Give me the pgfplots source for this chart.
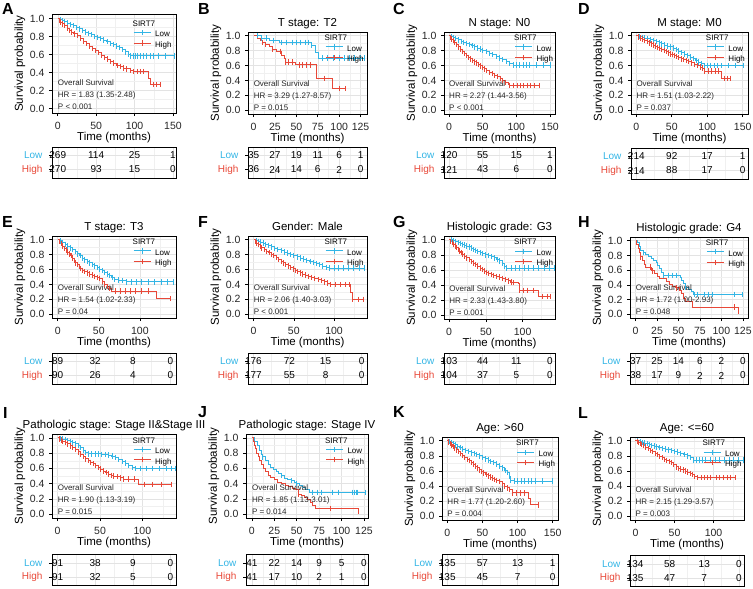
\documentclass[border=0pt]{standalone}
\usepackage{fontspec}
\setmainfont{Liberation Sans}
\usepackage{pgfplots}
\usepackage{pgfplotstable}
\pgfplotsset{compat=1.18}
\definecolor{lowc}{HTML}{33B5E5}
\definecolor{highc}{HTML}{E84838}
\newcommand\tickf{\fontsize{10.5}{12}\selectfont}
\newcommand\labf{\fontsize{11.5}{13}\selectfont}
\newcommand\annf{\fontsize{8}{9.5}\selectfont}
\newcommand\tabf{\fontsize{10}{12}\selectfont}
\newcommand\letf{\fontsize{16}{18}\selectfont\bfseries}

% ---------------- data (t = months, S = survival, c = censor mark) ----------------
\pgfplotstableread[row sep=\\]{t S c\\0 1 0\\3 0.99 1\\6 0.975 1\\9 0.965 1\\12 0.95 1\\16 0.935 1\\20 0.92 1\\24 0.90 1\\28 0.885 1\\32 0.87 1\\36 0.85 1\\40 0.835 1\\44 0.82 1\\48 0.80 1\\52 0.79 1\\56 0.775 1\\60 0.76 1\\64 0.745 1\\68 0.725 1\\72 0.71 1\\76 0.695 1\\80 0.675 1\\84 0.655 1\\88 0.63 1\\92 0.60 1\\95 0.585 1\\98 0.585 1\\101 0.585 1\\104 0.585 1\\108 0.585 1\\112 0.585 1\\116 0.585 1\\120 0.585 1\\125 0.585 1\\131 0.585 1\\140 0.585 1\\152 0.585 1\\}\Alow
\pgfplotstableread[row sep=\\]{t S c\\0 1 0\\2 0.98 1\\4 0.96 1\\6 0.94 1\\9 0.92 1\\12 0.895 1\\15 0.87 1\\18 0.85 1\\21 0.83 1\\25 0.81 1\\29 0.78 1\\33 0.75 1\\37 0.72 1\\41 0.695 1\\45 0.67 1\\49 0.645 1\\53 0.62 1\\57 0.595 1\\61 0.57 1\\65 0.55 1\\69 0.525 1\\73 0.505 1\\77 0.48 1\\81 0.465 1\\85 0.45 1\\90 0.44 1\\95 0.425 1\\99 0.41 1\\104 0.41 1\\108 0.41 1\\112 0.41 1\\118 0.33 0\\121 0.265 0\\124 0.265 1\\129 0.265 1\\134 0.265 1\\}\Ahigh
\pgfplotstableread[row sep=\\]{t S c\\0 1 0\\5 1 1\\9 0.97 1\\15 0.97 1\\19 0.94 0\\23 0.94 1\\30 0.91 0\\33 0.91 1\\38 0.91 1\\45 0.91 1\\50 0.91 1\\55 0.91 1\\60 0.91 1\\64 0.91 1\\68 0.87 1\\72 0.78 0\\76 0.70 0\\80 0.70 1\\86 0.70 1\\93 0.70 1\\100 0.70 1\\106 0.70 1\\112 0.70 1\\118 0.70 1\\125 0.70 1\\130 0.70 1\\}\Blow
\pgfplotstableread[row sep=\\]{t S c\\0 1 0\\5 0.97 0\\8 0.94 0\\10 0.91 1\\14 0.88 1\\18 0.85 0\\22 0.82 1\\27 0.79 0\\31 0.79 1\\33 0.74 0\\36 0.69 0\\37 0.645 1\\41 0.645 1\\45 0.645 1\\49 0.61 0\\53 0.61 1\\57 0.61 1\\62 0.61 1\\66 0.61 1\\74 0.43 0\\83 0.43 1\\92 0.29 0\\100 0.29 1\\107 0.29 1\\}\Bhigh
\pgfplotstableread[row sep=\\]{t S c\\0 1 0\\3 0.99 1\\6 0.975 1\\10 0.96 1\\14 0.945 1\\18 0.925 1\\22 0.91 1\\26 0.895 1\\30 0.88 1\\34 0.865 1\\38 0.85 1\\42 0.835 1\\46 0.82 1\\50 0.805 1\\55 0.785 1\\60 0.765 1\\65 0.745 1\\70 0.72 1\\75 0.70 1\\80 0.68 1\\85 0.655 1\\90 0.63 1\\95 0.605 1\\100 0.605 1\\105 0.605 1\\110 0.605 1\\115 0.605 1\\120 0.605 1\\130 0.605 1\\140 0.605 1\\151 0.605 1\\}\Clow
\pgfplotstableread[row sep=\\]{t S c\\0 1 0\\2 0.98 1\\4 0.955 1\\6 0.935 1\\8 0.91 1\\11 0.88 1\\14 0.85 1\\17 0.82 1\\20 0.79 1\\23 0.76 1\\26 0.735 1\\29 0.71 1\\32 0.69 1\\35 0.67 1\\38 0.65 1\\41 0.635 1\\44 0.615 1\\47 0.595 1\\50 0.575 1\\53 0.555 1\\56 0.53 1\\60 0.51 1\\64 0.49 1\\68 0.47 1\\72 0.45 1\\76 0.425 1\\80 0.40 1\\84 0.375 1\\88 0.35 0\\90 0.33 1\\96 0.33 1\\101 0.33 1\\106 0.33 1\\111 0.33 1\\116 0.33 1\\121 0.33 1\\127 0.33 1\\134 0.33 1\\}\Chigh
\pgfplotstableread[row sep=\\]{t S c\\0 1 0\\4 0.99 1\\8 0.98 1\\12 0.97 1\\16 0.96 1\\20 0.95 1\\24 0.935 1\\28 0.92 1\\32 0.905 1\\36 0.89 1\\40 0.875 1\\44 0.86 1\\48 0.85 1\\52 0.835 1\\56 0.815 1\\60 0.795 1\\64 0.775 1\\68 0.755 1\\72 0.735 1\\76 0.715 1\\80 0.695 1\\84 0.67 1\\88 0.645 1\\92 0.625 1\\96 0.60 1\\100 0.60 1\\105 0.60 1\\110 0.60 1\\115 0.60 1\\120 0.60 1\\130 0.60 1\\140 0.60 1\\151 0.60 1\\}\Dlow
\pgfplotstableread[row sep=\\]{t S c\\0 1 0\\3 0.985 1\\6 0.97 1\\9 0.955 1\\12 0.94 1\\15 0.92 1\\18 0.905 1\\21 0.89 1\\24 0.875 1\\27 0.86 1\\30 0.845 1\\33 0.83 1\\36 0.815 1\\39 0.80 1\\42 0.785 1\\45 0.77 1\\48 0.755 1\\51 0.745 1\\54 0.735 1\\57 0.72 1\\60 0.705 1\\63 0.69 1\\66 0.68 1\\70 0.67 1\\74 0.655 1\\78 0.635 1\\82 0.615 1\\86 0.60 1\\90 0.58 1\\93 0.565 1\\96 0.525 1\\101 0.525 1\\106 0.525 1\\111 0.525 1\\116 0.525 1\\120 0.43 0\\124 0.43 1\\128 0.43 1\\133 0.43 1\\}\Dhigh
\pgfplotstableread[row sep=\\]{t S c\\0 1 0\\3 0.985 1\\6 0.965 1\\9 0.94 1\\12 0.915 1\\15 0.89 1\\18 0.865 1\\21 0.84 1\\24 0.81 1\\27 0.785 1\\30 0.755 1\\33 0.73 1\\36 0.71 1\\39 0.69 1\\42 0.67 1\\45 0.65 1\\48 0.625 1\\51 0.605 1\\54 0.585 1\\57 0.56 1\\60 0.54 1\\63 0.52 1\\66 0.495 1\\69 0.47 1\\74 0.46 1\\79 0.45 1\\84 0.435 1\\90 0.435 1\\96 0.435 1\\102 0.435 1\\110 0.435 1\\118 0.435 1\\126 0.435 1\\134 0.435 1\\141 0.435 1\\}\Elow
\pgfplotstableread[row sep=\\]{t S c\\0 1 0\\2 0.98 1\\4 0.95 1\\6 0.915 1\\8 0.885 1\\10 0.86 1\\12 0.835 1\\14 0.81 1\\16 0.785 1\\18 0.755 1\\20 0.725 1\\22 0.69 1\\24 0.665 1\\26 0.64 1\\28 0.615 1\\30 0.59 1\\33 0.57 1\\36 0.555 1\\39 0.54 1\\42 0.525 1\\45 0.51 1\\48 0.495 1\\51 0.48 1\\54 0.44 1\\57 0.40 1\\60 0.37 1\\63 0.345 1\\66 0.31 0\\70 0.31 1\\76 0.31 1\\82 0.31 1\\88 0.31 1\\95 0.31 1\\102 0.31 1\\110 0.31 1\\120 0.21 0\\130 0.21 0\\137 0.21 1\\}\Ehigh
\pgfplotstableread[row sep=\\]{t S c\\0 1 0\\3 0.99 1\\6 0.98 1\\9 0.97 1\\12 0.955 1\\15 0.94 1\\18 0.925 1\\22 0.905 1\\26 0.885 1\\30 0.87 1\\34 0.855 1\\38 0.835 1\\42 0.82 1\\46 0.80 1\\50 0.785 1\\54 0.77 1\\58 0.755 1\\62 0.74 1\\66 0.725 1\\70 0.71 1\\74 0.695 1\\78 0.68 1\\82 0.665 1\\86 0.645 1\\90 0.63 1\\94 0.62 1\\100 0.62 1\\106 0.62 1\\112 0.62 1\\118 0.62 1\\124 0.62 1\\131 0.62 1\\138 0.62 1\\}\Flow
\pgfplotstableread[row sep=\\]{t S c\\0 1 0\\2 0.98 1\\4 0.955 1\\6 0.935 1\\8 0.91 1\\10 0.89 1\\13 0.865 1\\16 0.845 1\\19 0.825 1\\22 0.805 1\\25 0.785 1\\28 0.76 1\\31 0.735 1\\34 0.71 1\\37 0.69 1\\40 0.67 1\\43 0.65 1\\46 0.63 1\\49 0.61 1\\52 0.59 1\\55 0.575 1\\58 0.555 1\\61 0.54 1\\64 0.525 1\\68 0.51 1\\72 0.495 1\\76 0.48 1\\80 0.465 1\\84 0.45 1\\88 0.435 1\\92 0.42 1\\96 0.40 1\\102 0.40 1\\108 0.40 1\\114 0.40 1\\119 0.40 1\\121 0.29 0\\123 0.20 1\\130 0.20 1\\136 0.20 1\\}\Fhigh
\pgfplotstableread[row sep=\\]{t S c\\0 1 0\\3 1 1\\6 0.99 1\\9 0.975 1\\12 0.96 1\\15 0.95 1\\18 0.94 1\\21 0.93 1\\24 0.915 1\\27 0.905 1\\30 0.89 1\\33 0.875 1\\36 0.86 1\\39 0.845 1\\42 0.83 1\\45 0.815 1\\49 0.80 1\\53 0.79 1\\57 0.775 1\\61 0.76 1\\65 0.74 1\\69 0.72 1\\72 0.69 1\\75 0.65 1\\78 0.625 1\\84 0.625 1\\90 0.625 1\\96 0.625 1\\102 0.625 1\\108 0.625 1\\115 0.625 1\\122 0.625 1\\130 0.625 1\\137 0.625 1\\143 0.625 1\\}\Glow
\pgfplotstableread[row sep=\\]{t S c\\0 1 0\\2 0.98 1\\4 0.96 1\\6 0.94 1\\8 0.92 1\\10 0.90 1\\12 0.875 1\\14 0.85 1\\16 0.83 1\\18 0.81 1\\21 0.785 1\\24 0.76 1\\27 0.735 1\\30 0.71 1\\33 0.69 1\\36 0.67 1\\39 0.65 1\\42 0.625 1\\45 0.605 1\\48 0.585 1\\51 0.57 1\\54 0.555 1\\57 0.54 1\\60 0.53 1\\64 0.515 1\\68 0.505 1\\72 0.49 1\\76 0.475 1\\80 0.455 1\\84 0.44 1\\88 0.43 1\\94 0.425 0\\95 0.33 1\\101 0.33 1\\107 0.33 1\\115 0.33 1\\122 0.25 0\\127 0.25 1\\133 0.25 1\\138 0.25 1\\}\Ghigh
\pgfplotstableread[row sep=\\]{t S c\\0 1 0\\2 0.97 0\\4 0.92 0\\6 0.865 0\\9 0.84 1\\12 0.81 0\\15 0.78 0\\18 0.755 0\\21 0.73 0\\24 0.70 0\\26 0.67 0\\28 0.62 0\\30 0.57 0\\32 0.53 1\\38 0.53 1\\43 0.53 1\\48 0.53 1\\52 0.50 0\\54 0.46 0\\56 0.42 0\\58 0.37 1\\62 0.34 0\\65 0.31 0\\68 0.27 1\\72 0.27 1\\80 0.27 1\\85 0.27 1\\90 0.27 1\\115 0.27 1\\124 0.27 1\\}\Hlow
\pgfplotstableread[row sep=\\]{t S c\\0 1 0\\1 0.95 0\\3 0.89 0\\5 0.84 0\\6 0.78 1\\8 0.73 0\\10 0.68 0\\12 0.64 0\\17 0.64 1\\19 0.59 1\\22 0.55 0\\25 0.51 0\\28 0.49 0\\33 0.49 0\\36 0.44 0\\39 0.41 0\\43 0.38 0\\47 0.36 1\\51 0.32 0\\54 0.28 0\\56 0.22 0\\58 0.17 0\\66 0.10 0\\115 0.10 1\\120 0 0\\}\Hhigh
\pgfplotstableread[row sep=\\]{t S c\\0 1 0\\3 0.99 1\\6 0.985 1\\9 0.975 1\\12 0.965 1\\15 0.95 1\\18 0.935 1\\21 0.92 1\\24 0.90 1\\27 0.87 1\\30 0.84 1\\33 0.81 1\\36 0.79 1\\40 0.79 1\\44 0.79 1\\48 0.79 1\\52 0.785 1\\56 0.78 1\\60 0.775 1\\64 0.76 1\\68 0.745 1\\72 0.72 1\\76 0.69 1\\80 0.67 1\\84 0.64 1\\88 0.61 1\\92 0.60 1\\98 0.60 1\\105 0.60 1\\112 0.60 1\\120 0.60 1\\128 0.60 1\\134 0.60 1\\139 0.60 1\\}\Ilow
\pgfplotstableread[row sep=\\]{t S c\\0 1 0\\2 0.985 1\\4 0.97 1\\6 0.955 1\\9 0.94 1\\12 0.92 1\\15 0.895 1\\18 0.87 1\\21 0.845 1\\24 0.815 1\\27 0.785 1\\30 0.755 1\\33 0.725 1\\36 0.70 1\\39 0.68 1\\42 0.66 1\\45 0.64 1\\48 0.615 1\\51 0.59 1\\54 0.565 1\\57 0.545 1\\60 0.525 1\\63 0.51 1\\66 0.50 1\\70 0.49 1\\74 0.475 1\\78 0.46 1\\84 0.46 1\\90 0.46 1\\95 0.39 0\\102 0.39 1\\112 0.39 1\\122 0.39 1\\134 0.39 1\\}\Ihigh
\pgfplotstableread[row sep=\\]{t S c\\0 1 0\\3 0.95 0\\6 0.90 0\\9 0.84 0\\11 0.78 0\\12 0.75 1\\15 0.71 0\\18 0.65 0\\21 0.615 0\\24 0.58 0\\27 0.555 0\\30 0.53 0\\33 0.505 1\\36 0.47 0\\40 0.455 0\\44 0.44 1\\47 0.42 0\\50 0.40 1\\53 0.38 0\\56 0.355 0\\60 0.33 0\\64 0.285 0\\68 0.285 1\\73 0.285 1\\77 0.285 1\\90 0.285 1\\96 0.285 1\\112 0.285 1\\114 0.285 1\\116 0.285 1\\118 0.285 1\\127 0.285 1\\}\Jlow
\pgfplotstableread[row sep=\\]{t S c\\0 1 0\\2 0.95 0\\3 0.90 0\\4 0.86 0\\5 0.80 0\\7 0.75 0\\9 0.70 0\\11 0.65 0\\13 0.60 0\\15 0.56 0\\18 0.51 0\\21 0.475 0\\25 0.45 0\\29 0.42 0\\33 0.40 0\\37 0.375 0\\41 0.36 0\\45 0.34 0\\49 0.32 0\\52 0.26 1\\55 0.245 0\\59 0.22 0\\62 0.19 0\\65 0.15 0\\68 0.12 0\\71 0.075 0\\88 0.075 1\\119 0 0\\}\Jhigh
\pgfplotstableread[row sep=\\]{t S c\\0 1 0\\3 0.99 1\\6 0.975 1\\9 0.96 1\\12 0.945 1\\15 0.925 1\\18 0.91 1\\22 0.89 1\\26 0.87 1\\30 0.855 1\\34 0.84 1\\38 0.83 1\\42 0.815 1\\46 0.80 1\\50 0.78 1\\54 0.76 1\\58 0.745 1\\62 0.725 1\\66 0.71 1\\70 0.69 1\\74 0.665 1\\78 0.64 1\\82 0.61 1\\85 0.58 1\\88 0.53 1\\90 0.47 1\\95 0.465 1\\100 0.465 1\\105 0.465 1\\110 0.465 1\\115 0.465 1\\120 0.465 1\\125 0.465 1\\135 0.465 1\\150 0.465 1\\}\Klow
\pgfplotstableread[row sep=\\]{t S c\\0 1 0\\2 0.985 1\\4 0.965 1\\6 0.945 1\\8 0.925 1\\10 0.905 1\\13 0.88 1\\16 0.855 1\\19 0.83 1\\22 0.805 1\\25 0.78 1\\28 0.755 1\\31 0.735 1\\34 0.71 1\\37 0.69 1\\40 0.665 1\\43 0.64 1\\46 0.615 1\\49 0.595 1\\52 0.575 1\\55 0.555 1\\58 0.535 1\\61 0.52 1\\64 0.505 1\\67 0.49 1\\70 0.475 1\\74 0.46 1\\78 0.43 1\\81 0.40 1\\85 0.375 1\\89 0.355 1\\93 0.31 1\\98 0.31 1\\104 0.31 1\\110 0.31 1\\115 0.24 0\\118 0.15 0\\124 0.15 0\\130 0.15 1\\}\Khigh
\pgfplotstableread[row sep=\\]{t S c\\0 1 0\\3 1 1\\6 0.99 1\\9 0.98 1\\12 0.97 1\\15 0.96 1\\18 0.95 1\\21 0.94 1\\24 0.93 1\\27 0.92 1\\30 0.91 1\\34 0.90 1\\38 0.89 1\\42 0.88 1\\46 0.87 1\\50 0.86 1\\54 0.85 1\\58 0.835 1\\62 0.82 1\\66 0.80 1\\70 0.78 1\\74 0.745 1\\78 0.745 1\\82 0.745 1\\86 0.745 1\\90 0.745 1\\96 0.745 1\\102 0.745 1\\108 0.745 1\\114 0.745 1\\120 0.745 1\\126 0.745 1\\132 0.745 1\\138 0.745 1\\}\Llow
\pgfplotstableread[row sep=\\]{t S c\\0 1 0\\2 0.99 1\\4 0.975 1\\6 0.96 1\\8 0.95 1\\10 0.935 1\\13 0.915 1\\16 0.895 1\\19 0.875 1\\22 0.855 1\\25 0.835 1\\28 0.815 1\\31 0.795 1\\34 0.775 1\\37 0.755 1\\40 0.74 1\\43 0.725 1\\46 0.71 1\\49 0.685 1\\52 0.655 1\\55 0.635 1\\58 0.625 1\\61 0.615 1\\64 0.60 1\\67 0.585 1\\70 0.57 1\\73 0.55 1\\76 0.53 1\\79 0.51 1\\84 0.51 1\\88 0.51 1\\92 0.51 1\\96 0.51 1\\104 0.51 1\\108 0.51 1\\112 0.51 1\\118 0.51 1\\122 0.51 1\\128 0.51 1\\}\Lhigh

% ---------------- styles ----------------
\pgfplotsset{
  base/.style={scale only axis, anchor=north west,
    axis line style={line width=0.8pt, black},
    tick align=outside, major tick length=3pt, minor tick length=0pt,
    tick style={black, line width=0.6pt},
    xtick pos=bottom, ytick pos=left,
    grid=both,
    major grid style={line width=0.5pt, draw=black!11},
    minor grid style={line width=0.3pt, draw=black!6},
    /pgf/number format/assume math mode=true,
    ticklabel style={font=\tickf, text=black!85},
    xticklabel style={yshift=-2.5pt},
    yticklabel style={xshift=-1pt}},
  km/.style={base, ymin=-0.05, ymax=1.05,
    ytick={0,0.2,0.4,0.6,0.8,1}, minor ytick={0.1,0.3,0.5,0.7,0.9},
    yticklabel style={/pgf/number format/.cd, fixed, fixed zerofill, precision=1},
    legend cell align=left,
    legend style={draw=none, fill=none, at={(0.81,0.79)}, anchor=center,
      font=\annf, inner sep=0pt, row sep=1.5pt, column sep=4pt,
      nodes={inner sep=0pt, text height=5.8pt, text depth=1.7pt}},
    legend image code/.code={\draw[##1] (0pt,2.3pt) -- (17pt,2.3pt);
      \draw[##1, line width=0.7pt] (8.5pt,-0.3pt) -- (8.5pt,4.9pt);}},
  rt/.style={base, ymin=0.4, ymax=2.6, ytick={1,2},
    yticklabels={\textcolor{highc}{High},\textcolor{lowc}{Low}},
    xticklabels={}, xtick style={draw=none}, clip=false,
    yticklabel style={font=\tabf, xshift=-2pt}},
  xt50/.style={xtick={0,50,100,150}, minor xtick={25,75,125}},
  xt25/.style={xtick={0,25,50,75,100,125}, minor xtick={12.5,37.5,62.5,87.5,112.5}},
  lowline/.style={lowc, line width=0.9pt, const plot, mark=none},
  highline/.style={highc, line width=0.9pt, const plot, mark=none},
  lowmk/.style={forget plot, only marks, scatter, scatter src=explicit symbolic,
    scatter/classes={1={mark=|, lowc, mark size=2.7pt, line width=0.75pt}, 0={mark=none}}},
  highmk/.style={forget plot, only marks, scatter, scatter src=explicit symbolic,
    scatter/classes={1={mark=|, highc, mark size=2.7pt, line width=0.75pt}, 0={mark=none}}},
  tabnum/.style={only marks, mark=*, mark size=0pt, mark options={draw=none, fill=none},
    nodes near coords, point meta=explicit symbolic,
    every node near coord/.style={anchor=center, font=\tabf, inner sep=0pt, text=black}},
}

\newcommand\kmcurves[2]{%
  \addlegendimage{empty legend}\addlegendentry{\makebox[0pt][l]{\hspace*{-23pt}SIRT7}}
  \addplot[lowline] table[x=t,y=S] {#1}; \addlegendentry{Low}
  \addplot[highline] table[x=t,y=S] {#2}; \addlegendentry{High}
  \addplot[lowmk] table[x=t,y=S,meta=c] {#1};
  \addplot[highmk] table[x=t,y=S,meta=c] {#2};
}
\newcommand\annot[2]{%
  \node[font=\annf, text=black!85, anchor=base west, inner sep=0pt, yshift=23.5pt] at (axis cs:0,0) {Overall Survival};
  \node[font=\annf, text=black!85, anchor=base west, inner sep=0pt, yshift=11.5pt] at (axis cs:0,0) {#1};
  \node[font=\annf, text=black!85, anchor=base west, inner sep=0pt, yshift=-0.5pt] at (axis cs:0,0) {#2};
}
\newcommand\kmdeco[1]{%
  \node[font=\labf, rotate=90, inner sep=0pt] at ([xshift=-32pt]#1.west) {Survival probability};
  \node[font=\labf, inner sep=0pt] at ([yshift=-25pt]#1.south) {Time (months)};
}
\newcommand\kmtitle[2]{\node[font=\labf, anchor=base, inner sep=0pt] at ([yshift=5.5pt]#1.north) {#2};}
\newcommand\letter[3]{\node[font=\letf, anchor=base west, inner sep=0pt] at (#1pt,-#2pt) {#3};}

\begin{document}
\begin{tikzpicture}
\useasboundingbox (0pt,0pt) rectangle (753pt,-589pt);

% ===== A =====
\begin{axis}[km, xt50, name=pA, at={(52pt,-14pt)}, width=124pt, height=99pt, xmin=-7.5, xmax=154]
\kmcurves{\Alow}{\Ahigh}
\annot{HR = 1.83 (1.35-2.48)}{P < 0.001}
\end{axis}
\kmdeco{pA}\letter{2}{15}{A}
\begin{axis}[rt, xt50, at={(52pt,-147pt)}, width=124pt, height=31pt, xmin=-7.5, xmax=154]
\addplot[tabnum] table[meta=n, row sep=\\] {x y n\\ 0 2 269\\ 50 2 114\\ 100 2 25\\ 150 2 1\\ 0 1 270\\ 50 1 93\\ 100 1 15\\ 150 1 0\\};
\end{axis}

% ===== B =====
\begin{axis}[km, xt25, name=pB, at={(248pt,-32pt)}, width=119pt, height=82pt, xmin=-6.5, xmax=132.5]
\kmcurves{\Blow}{\Bhigh}
\annot{HR = 3.29 (1.27-8.57)}{P = 0.015}
\end{axis}
\kmdeco{pB}\kmtitle{pB}{T stage: T2}\letter{198}{15}{B}
\begin{axis}[rt, xt25, at={(248pt,-147pt)}, width=119pt, height=31pt, xmin=-6.5, xmax=132.5]
\addplot[tabnum] table[meta=n, row sep=\\] {x y n\\ 0 2 35\\ 25 2 27\\ 50 2 19\\ 75 2 11\\ 100 2 6\\ 125 2 1\\ 0 1 36\\ 25 1 24\\ 50 1 14\\ 75 1 6\\ 100 1 2\\ 125 1 0\\};
\end{axis}

% ===== C =====
\begin{axis}[km, xt50, name=pC, at={(444pt,-32pt)}, width=111pt, height=82pt, xmin=-7.5, xmax=157.5]
\kmcurves{\Clow}{\Chigh}
\annot{HR = 2.27 (1.44-3.56)}{P < 0.001}
\end{axis}
\kmdeco{pC}\kmtitle{pC}{N stage: N0}\letter{393}{15}{C}
\begin{axis}[rt, xt50, at={(444pt,-147pt)}, width=111pt, height=31pt, xmin=-7.5, xmax=157.5]
\addplot[tabnum] table[meta=n, row sep=\\] {x y n\\ 0 2 120\\ 50 2 55\\ 100 2 15\\ 150 2 1\\ 0 1 121\\ 50 1 43\\ 100 1 6\\ 150 1 0\\};
\end{axis}

% ===== D =====
\begin{axis}[km, xt50, name=pD, at={(631pt,-32pt)}, width=117pt, height=82pt, xmin=-7.5, xmax=157.5]
\kmcurves{\Dlow}{\Dhigh}
\annot{HR = 1.51 (1.03-2.22)}{P = 0.037}
\end{axis}
\kmdeco{pD}\kmtitle{pD}{M stage: M0}\letter{578}{15}{D}
\begin{axis}[rt, xt50, at={(631pt,-148pt)}, width=117pt, height=31pt, xmin=-7.5, xmax=157.5]
\addplot[tabnum] table[meta=n, row sep=\\] {x y n\\ 0 2 214\\ 50 2 92\\ 100 2 17\\ 150 2 1\\ 0 1 214\\ 50 1 88\\ 100 1 17\\ 150 1 0\\};
\end{axis}

% ===== E =====
\begin{axis}[km, xt50, name=pE, at={(52pt,-236pt)}, width=124pt, height=82pt, xmin=-7, xmax=144]
\kmcurves{\Elow}{\Ehigh}
\annot{HR = 1.54 (1.02-2.33)}{P = 0.04}
\end{axis}
\kmdeco{pE}\kmtitle{pE}{T stage: T3}\letter{2}{227}{E}
\begin{axis}[rt, xt50, at={(52pt,-353pt)}, width=124pt, height=31pt, xmin=-7.5, xmax=157.5]
\addplot[tabnum] table[meta=n, row sep=\\] {x y n\\ 0 2 89\\ 50 2 32\\ 100 2 8\\ 150 2 0\\ 0 1 90\\ 50 1 26\\ 100 1 4\\ 150 1 0\\};
\end{axis}

% ===== F =====
\begin{axis}[km, xt50, name=pF, at={(248pt,-236pt)}, width=119pt, height=82pt, xmin=-7, xmax=141]
\kmcurves{\Flow}{\Fhigh}
\annot{HR = 2.06 (1.40-3.03)}{P < 0.001}
\end{axis}
\kmdeco{pF}\kmtitle{pF}{Gender: Male}\letter{198}{227}{F}
\begin{axis}[rt, xt50, at={(248pt,-353pt)}, width=119pt, height=31pt, xmin=-7.5, xmax=157.5]
\addplot[tabnum] table[meta=n, row sep=\\] {x y n\\ 0 2 176\\ 50 2 72\\ 100 2 15\\ 150 2 0\\ 0 1 177\\ 50 1 55\\ 100 1 8\\ 150 1 0\\};
\end{axis}

% ===== G =====
\begin{axis}[km, xt50, name=pG, at={(444pt,-236pt)}, width=111pt, height=83pt, xmin=-7, xmax=144]
\kmcurves{\Glow}{\Ghigh}
\annot{HR = 2.33 (1.43-3.80)}{P = 0.001}
\end{axis}
\kmdeco{pG}\kmtitle{pG}{Histologic grade: G3}\letter{393}{227}{G}
\begin{axis}[rt, xt50, at={(444pt,-353pt)}, width=111pt, height=31pt, xmin=-7.5, xmax=157.5]
\addplot[tabnum] table[meta=n, row sep=\\] {x y n\\ 0 2 103\\ 50 2 44\\ 100 2 11\\ 150 2 0\\ 0 1 104\\ 50 1 37\\ 100 1 5\\ 150 1 0\\};
\end{axis}

% ===== H =====
\begin{axis}[km, xt25, name=pH, at={(630pt,-237pt)}, width=118pt, height=81pt, xmin=-6.5, xmax=131]
\kmcurves{\Hlow}{\Hhigh}
\annot{HR = 1.72 (1.00-2.93)}{P = 0.048}
\end{axis}
\kmdeco{pH}\kmtitle{pH}{Histologic grade: G4}\letter{578}{227}{H}
\begin{axis}[rt, xt25, at={(630pt,-353pt)}, width=118pt, height=31pt, xmin=-6.5, xmax=131]
\addplot[tabnum] table[meta=n, row sep=\\] {x y n\\ 0 2 37\\ 25 2 25\\ 50 2 14\\ 75 2 6\\ 100 2 2\\ 125 2 0\\ 0 1 38\\ 25 1 17\\ 50 1 9\\ 75 1 2\\ 100 1 2\\ 125 1 0\\};
\end{axis}

% ===== I =====
\begin{axis}[km, xt50, name=pI, at={(52pt,-434pt)}, width=124pt, height=84pt, xmin=-6.6, xmax=139.6]
\kmcurves{\Ilow}{\Ihigh}
\annot{HR = 1.90 (1.13-3.19)}{P = 0.015}
\end{axis}
\kmdeco{pI}\kmtitle{pI}{Pathologic stage: Stage II\&Stage III}\letter{3}{418}{I}
\begin{axis}[rt, xt50, at={(52pt,-554.5pt)}, width=124pt, height=31pt, xmin=-7.5, xmax=157.5]
\addplot[tabnum] table[meta=n, row sep=\\] {x y n\\ 0 2 91\\ 50 2 38\\ 100 2 9\\ 150 2 0\\ 0 1 91\\ 50 1 32\\ 100 1 5\\ 150 1 0\\};
\end{axis}

% ===== J =====
\begin{axis}[km, xt25, name=pJ, at={(246pt,-434pt)}, width=122pt, height=84pt, xmin=-6.5, xmax=129.5]
\kmcurves{\Jlow}{\Jhigh}
\annot{HR = 1.85 (1.13-3.01)}{P = 0.014}
\end{axis}
\kmdeco{pJ}\kmtitle{pJ}{Pathologic stage: Stage IV}\letter{198}{417}{J}
\begin{axis}[rt, xt25, at={(246pt,-554.5pt)}, width=122pt, height=31pt, xmin=-6.5, xmax=129.5]
\addplot[tabnum] table[meta=n, row sep=\\] {x y n\\ 0 2 41\\ 25 2 22\\ 50 2 14\\ 75 2 9\\ 100 2 5\\ 125 2 0\\ 0 1 41\\ 25 1 17\\ 50 1 10\\ 75 1 2\\ 100 1 1\\ 125 1 0\\};
\end{axis}

% ===== K =====
\begin{axis}[km, xt50, name=pK, at={(442pt,-437pt)}, width=116pt, height=83pt, xmin=-7.5, xmax=157.5]
\kmcurves{\Klow}{\Khigh}
\annot{HR = 1.77 (1.20-2.60)}{P = 0.004}
\end{axis}
\kmdeco{pK}\kmtitle{pK}{Age: >60}\letter{393}{417}{K}
\begin{axis}[rt, xt50, at={(442pt,-554.5pt)}, width=116pt, height=31pt, xmin=-7.5, xmax=157.5]
\addplot[tabnum] table[meta=n, row sep=\\] {x y n\\ 0 2 135\\ 50 2 57\\ 100 2 13\\ 150 2 1\\ 0 1 135\\ 50 1 45\\ 100 1 7\\ 150 1 0\\};
\end{axis}

% ===== L =====
\begin{axis}[km, xt50, name=pL, at={(630pt,-437pt)}, width=114pt, height=83pt, xmin=-7, xmax=139]
\kmcurves{\Llow}{\Lhigh}
\annot{HR = 2.15 (1.29-3.57)}{P = 0.003}
\end{axis}
\kmdeco{pL}\kmtitle{pL}{Age: <=60}\letter{578}{418}{L}
\begin{axis}[rt, xt50, at={(630pt,-555.5pt)}, width=114pt, height=31pt, xmin=-7.5, xmax=157.5]
\addplot[tabnum] table[meta=n, row sep=\\] {x y n\\ 0 2 134\\ 50 2 58\\ 100 2 13\\ 150 2 0\\ 0 1 135\\ 50 1 47\\ 100 1 7\\ 150 1 0\\};
\end{axis}

\end{tikzpicture}
\end{document}
